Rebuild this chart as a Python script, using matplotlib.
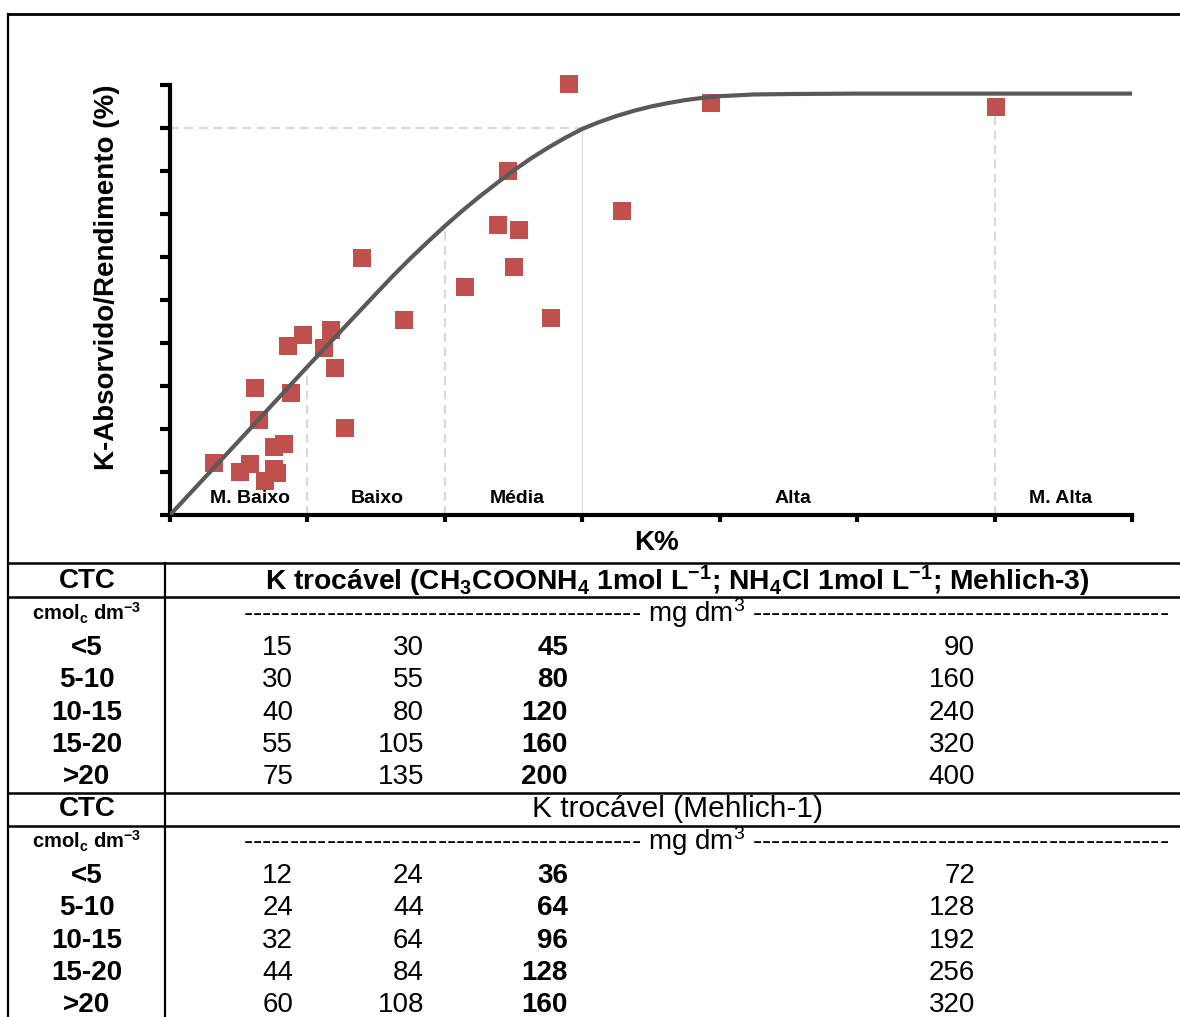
import matplotlib
matplotlib.use('Agg')
import matplotlib.pyplot as plt

plt.rcParams['font.family'] = 'Liberation Sans'
plt.rcParams['mathtext.fontset'] = 'custom'
plt.rcParams['mathtext.rm'] = 'Liberation Sans'
plt.rcParams['mathtext.bf'] = 'Liberation Sans:bold'
plt.rcParams['mathtext.it'] = 'Liberation Sans:italic'

# --- chart data ---
# fitted response curve
curve_x = [0, 0.5, 1, 1.5, 1.625, 1.75, 1.875, 2, 2.125, 2.25, 2.375, 2.5, 2.625, 2.75, 2.875,
           3, 3.125, 3.25, 3.375, 3.5, 3.625, 3.75, 3.875, 4, 4.125, 4.25, 4.5, 5, 6, 7]
curve_y = [0, 17.2, 34.5, 51.5, 55.7, 59.7, 63.5, 67.2, 70.7, 74.0, 77.1, 80.1, 82.9, 85.4, 87.7,
           89.8, 91.4, 92.8, 94.0, 95.0, 95.8, 96.5, 97.0, 97.4, 97.6, 97.8, 97.9, 98.0, 98.0, 98.0]

# observed points
obs_x = [2.90, 3.94, 6.01, 2.46, 3.29, 2.39, 2.54, 2.50, 2.15, 2.77, 1.40, 1.70, 1.17, 0.97,
         1.12, 0.86, 1.20, 0.62, 0.88, 0.65, 1.27, 0.76, 0.83, 0.32, 0.51, 0.58, 0.76, 0.78, 0.69]
obs_y = [100.2, 95.8, 94.8, 80.0, 70.7, 67.4, 66.3, 57.7, 53.0, 45.8, 59.8, 45.3, 43.0, 41.9,
         38.8, 39.3, 34.2, 29.5, 28.4, 22.1, 20.2, 15.9, 16.5, 12.2, 10.1, 11.8, 10.6, 9.7, 8.0]

# class limits and where they meet the curve
limit_x = [1, 2, 3, 6]
limit_top = [34.5, 67.2, 89.8, 98.0]
sufficiency = 90

class_names = ['M. Baixo', 'Baixo', 'Média', 'Alta', 'M. Alta']
class_pos = [0.58, 1.51, 2.53, 4.53, 6.48]

# --- table data ---
ctc_classes = ['<5', '5-10', '10-15', '15-20', '>20']
m3_values = [[15, 30, 45, 90],
             [30, 55, 80, 160],
             [40, 80, 120, 240],
             [55, 105, 160, 320],
             [75, 135, 200, 400]]
m1_values = [[12, 24, 36, 72],
             [24, 44, 64, 128],
             [32, 64, 96, 192],
             [44, 84, 128, 256],
             [60, 108, 160, 320]]

W, H = 1180, 1017
fig = plt.figure(figsize=(W / 100, H / 100), dpi=100)

# background axes in pixel coordinates for frame + table
bg = fig.add_axes([0, 0, 1, 1])
bg.set_xlim(0, W)
bg.set_ylim(H, 0)
bg.axis('off')

# --- chart ---
ax = fig.add_axes([170 / W, (H - 515) / H, (1132 - 170) / W, (515 - 85) / H])
ax.set_xlim(0, 7)
ax.set_ylim(0, 100)
ax.set_xticks(range(0, 8))
ax.set_yticks(range(0, 101, 10))
ax.tick_params(axis='both', direction='out', width=3, labelbottom=False, labelleft=False)
ax.tick_params(axis='y', length=7)
ax.tick_params(axis='x', length=5)
for s in ['top', 'right']:
    ax.spines[s].set_visible(False)
for s in ['left', 'bottom']:
    ax.spines[s].set_linewidth(3)
ax.patch.set_alpha(0)

grey = '#D9D9D9'
ax.plot([0, limit_x[2]], [sufficiency, sufficiency], color=grey, lw=1.6, ls=(0, (4, 2.5)), zorder=1)
for lx, top in zip(limit_x, limit_top):
    if lx == 3:
        ax.plot([lx, lx], [0, top], color=grey, lw=0.8, zorder=1)
    else:
        ax.plot([lx, lx], [0, top], color=grey, lw=1.6, ls=(0, (4, 2.5)), zorder=1)

ax.plot(obs_x, obs_y, 's', color='#C0504D', markersize=13, markeredgewidth=0,
        clip_on=False, zorder=2)
ax.plot(curve_x, curve_y, color='#595959', lw=3, solid_capstyle='butt',
        solid_joinstyle='round', zorder=3)

for name, px in zip(class_names, class_pos):
    ax.text(px, 3.8, name, ha='center', va='center', fontsize=14, fontweight='bold')

bg.text(107, 277, 'K-Absorvido/Rendimento (%)', rotation=90, ha='center', va='center',
        fontsize=20, fontweight='bold')
bg.text(657, 543, 'K%', ha='center', va='center', fontsize=20, fontweight='bold')

# --- frame and table lines ---
bg.plot([8, W], [14, 14], color='black', lw=2)
bg.plot([8, 8], [14, H], color='black', lw=1.6)
for yl in [563, 597, 793, 826]:
    bg.plot([8, W], [yl, yl], color='black', lw=1.8)
bg.plot([165, 165], [563, H], color='black', lw=1.6)

fs = 20
col_right = [293, 424, 568, 975]


def table_block(y0, header, header_bold, values, header_fs):
    bg.text(87, y0 + 1, 'CTC', ha='center', va='center', fontsize=fs, fontweight='bold')
    bg.text(677, y0 + 1, header, ha='center', va='center', fontsize=header_fs,
            fontweight='bold' if header_bold else 'normal')
    bg.text(87, y0 + 33, r'cmol$_\mathbf{c}$ dm$^\mathbf{-3}$', ha='center', va='center',
            fontsize=14.5, fontweight='bold')
    bg.text(706, y0 + 33, '-' * 43 + r' mg dm$^\mathrm{3}$ ' + '-' * 45,
            ha='center', va='center', fontsize=fs)
    for i, (cls, row) in enumerate(zip(ctc_classes, values)):
        yy = y0 + 68 + i * 32.3
        bg.text(87, yy, cls, ha='center', va='center', fontsize=fs, fontweight='bold')
        for j, v in enumerate(row):
            bg.text(col_right[j], yy, str(v), ha='right', va='center', fontsize=fs,
                    fontweight='bold' if j == 2 else 'normal')


table_block(580, r'K trocável (CH$_\mathbf{3}$COONH$_\mathbf{4}$ 1mol L$^\mathbf{-1}$; '
                 r'NH$_\mathbf{4}$Cl 1mol L$^\mathbf{-1}$; Mehlich-3)', True, m3_values, 20.3)
table_block(808, 'K trocável (Mehlich-1)', False, m1_values, 21.5)

fig.savefig('out.png', dpi=100)
